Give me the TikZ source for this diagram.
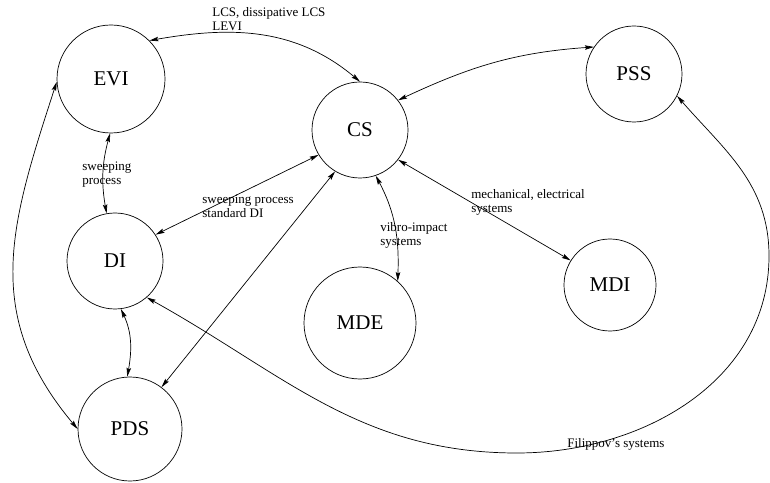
\documentclass[tikz,border=0pt]{standalone}
\usepackage{amsmath}
\usepackage{fontspec}
\setmainfont{Liberation Serif}
\usetikzlibrary{arrows.meta}

\begin{document}
\begin{tikzpicture}[x=1pt,y=1pt,line width=0.7pt,>={Stealth[length=9pt,width=4.5pt,inset=1.5pt]}]
    \useasboundingbox (0,0) rectangle (770,482);

    \begin{scope}[every node/.style={circle,draw,inner sep=0pt,font=\fontsize{21}{21}\selectfont}]
        \node[minimum size=108pt] (EVI) at (111,403) {EVI};
        \node[minimum size=96pt] (CS) at (360,352) {CS};
        \node[minimum size=96pt] (PSS) at (634,408) {PSS};
        \node[minimum size=96pt] (DI) at (115,221) {DI};
        \node[minimum size=112pt] (MDE) at (360,159) {MDE};
        \node[minimum size=92pt] (MDI) at (610,197) {MDI};
        \node[minimum size=104pt] (PDS) at (130,53) {PDS};
    \end{scope}

    \begin{scope}[every node/.style={inner sep=0pt,anchor=base west,align=left,font=\fontsize{13}{14}\selectfont}]
        \node (lcs) at (212,451.3) {LCS, dissipative LCS\\LEVI};
        \node (sweep1) at (82,297.7) {sweeping\\process};
        \node (sweep2) at (202,264.7) {sweeping process\\standard DI};
        \node (vibro) at (380,236) {vibro-impact\\systems};
        \node (mech) at (471,269) {mechanical, electrical\\systems};
        \node (filip) at (567,34.3) {Filippov's systems};
    \end{scope}

    \coordinate (fbot) at (517,29);
    \coordinate (fright) at (769,226);

    \begin{scope}
        \path [<->] (EVI.45) edge [out=10,in=140] (CS.90);
        \path [<->] (CS.38) edge [out=25,in=184] (PSS.146);
        \path [<->] (EVI.-91) edge [out=-105,in=100] (DI.100);
        \path [<->] (DI.33) edge (CS.211);
        \path [<->] (PDS.53) edge (CS.239);
        \path [<->] (CS.-71) edge [out=-62,in=88] (MDE.48);
        \path [<->] (CS.-38) edge (MDI.148);
        \path [<->] (DI.-83) edge [out=-65,in=80] (PDS.93);
        \path [<->] (EVI.183) edge [out=-108,in=130,looseness=1.1] (PDS.180);
        \draw [<->] (DI.-49) to [out=-29,in=180] (fbot) to [out=0,in=-90] (fright) to [out=90,in=-49] (PSS.-27);
    \end{scope}
\end{tikzpicture}
\end{document}
